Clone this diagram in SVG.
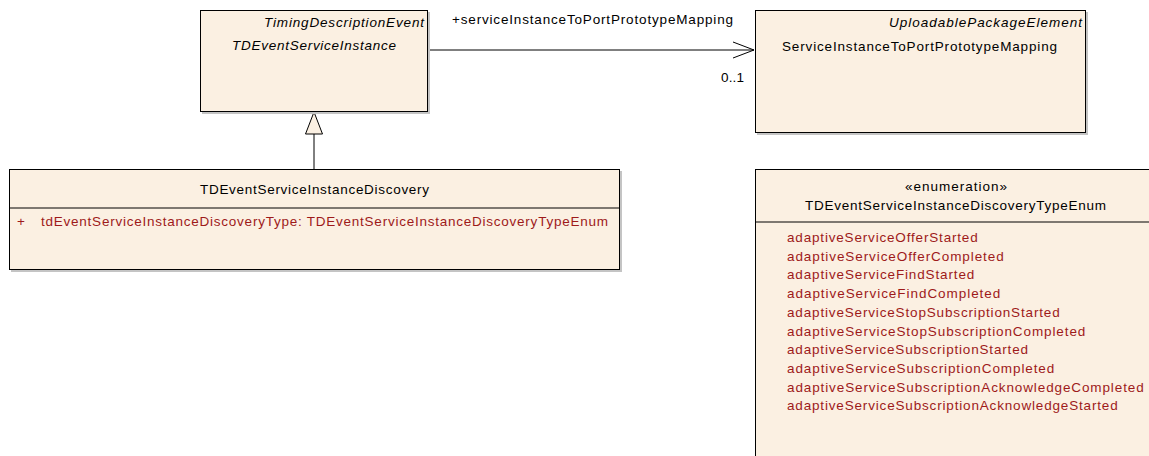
<svg xmlns="http://www.w3.org/2000/svg" width="1149" height="456" viewBox="0 0 1149 456">
<style>
.box{fill:#FBF0E2;stroke:#000;stroke-width:1}
.shadow{fill:#c4c4c4}
.t{font-family:"Liberation Sans",Arial,sans-serif;font-size:13.5px;fill:#000}
.i{font-style:italic}
.r{fill:#9E1A1A}
.c{text-anchor:middle}
.e{text-anchor:end}
.ln{stroke:#000;stroke-width:1;fill:none}
</style>
<rect width="1149" height="456" fill="#fff"/>
<g id="connectors">
<line class="ln" x1="428" y1="50" x2="754" y2="50"/>
<polyline class="ln" points="733,42 754,50 733,58"/>
<text class="t" x="452" y="24" textLength="281" lengthAdjust="spacing">+serviceInstanceToPortPrototypeMapping</text>
<text class="t" x="721" y="82" textLength="23" lengthAdjust="spacing">0..1</text>
<line class="ln" x1="314" y1="134" x2="314" y2="169"/>
<polygon points="314,112 305.5,134 322.5,134" fill="#FBF0E2" stroke="#000" stroke-width="1"/>
</g>
<g id="TDEventServiceInstance">
<rect class="shadow" x="202" y="12" width="228" height="102"/>
<rect class="box" x="200.5" y="10.5" width="227" height="101"/>
<text class="t i e" x="424" y="27" textLength="160" lengthAdjust="spacing">TimingDescriptionEvent</text>
<text class="t i c" x="314" y="50" textLength="164" lengthAdjust="spacing">TDEventServiceInstance</text>
</g>
<g id="ServiceInstanceToPortPrototypeMapping">
<rect class="shadow" x="757" y="12" width="331" height="123"/>
<rect class="box" x="755.5" y="10.5" width="330" height="122"/>
<text class="t i e" x="1082" y="27" textLength="193" lengthAdjust="spacing">UploadablePackageElement</text>
<text class="t" x="782" y="51" textLength="275" lengthAdjust="spacing">ServiceInstanceToPortPrototypeMapping</text>
</g>
<g id="TDEventServiceInstanceDiscovery">
<rect class="shadow" x="11" y="171" width="611" height="101"/>
<rect class="box" x="9.5" y="169.5" width="610" height="100"/>
<line class="ln" x1="9.5" y1="208" x2="619.5" y2="208"/>
<text class="t c" x="314.5" y="194" textLength="229" lengthAdjust="spacing">TDEventServiceInstanceDiscovery</text>
<text class="t r" x="17" y="226">+</text>
<text class="t r" x="41" y="226" textLength="567" lengthAdjust="spacing">tdEventServiceInstanceDiscoveryType: TDEventServiceInstanceDiscoveryTypeEnum</text>
</g>
<g id="TDEventServiceInstanceDiscoveryTypeEnum">
<rect class="box" x="755.5" y="169.5" width="410" height="300"/>
<line class="ln" x1="755.5" y1="222" x2="1165" y2="222"/>
<text class="t c" x="956" y="191" textLength="102" lengthAdjust="spacing">«enumeration»</text>
<text class="t c" x="955.5" y="210" textLength="301" lengthAdjust="spacing">TDEventServiceInstanceDiscoveryTypeEnum</text>
<text class="t r" x="787" y="242" textLength="190.7" lengthAdjust="spacing">adaptiveServiceOfferStarted</text>
<text class="t r" x="787" y="260.7" textLength="216.7" lengthAdjust="spacing">adaptiveServiceOfferCompleted</text>
<text class="t r" x="787" y="279.4" textLength="187.3" lengthAdjust="spacing">adaptiveServiceFindStarted</text>
<text class="t r" x="787" y="298.1" textLength="213.3" lengthAdjust="spacing">adaptiveServiceFindCompleted</text>
<text class="t r" x="787" y="316.8" textLength="272.7" lengthAdjust="spacing">adaptiveServiceStopSubscriptionStarted</text>
<text class="t r" x="787" y="335.5" textLength="298.3" lengthAdjust="spacing">adaptiveServiceStopSubscriptionCompleted</text>
<text class="t r" x="787" y="354.2" textLength="241" lengthAdjust="spacing">adaptiveServiceSubscriptionStarted</text>
<text class="t r" x="787" y="372.9" textLength="267.3" lengthAdjust="spacing">adaptiveServiceSubscriptionCompleted</text>
<text class="t r" x="787" y="391.6" textLength="356.7" lengthAdjust="spacing">adaptiveServiceSubscriptionAcknowledgeCompleted</text>
<text class="t r" x="787" y="410.3" textLength="330.7" lengthAdjust="spacing">adaptiveServiceSubscriptionAcknowledgeStarted</text>
</g>
</svg>
